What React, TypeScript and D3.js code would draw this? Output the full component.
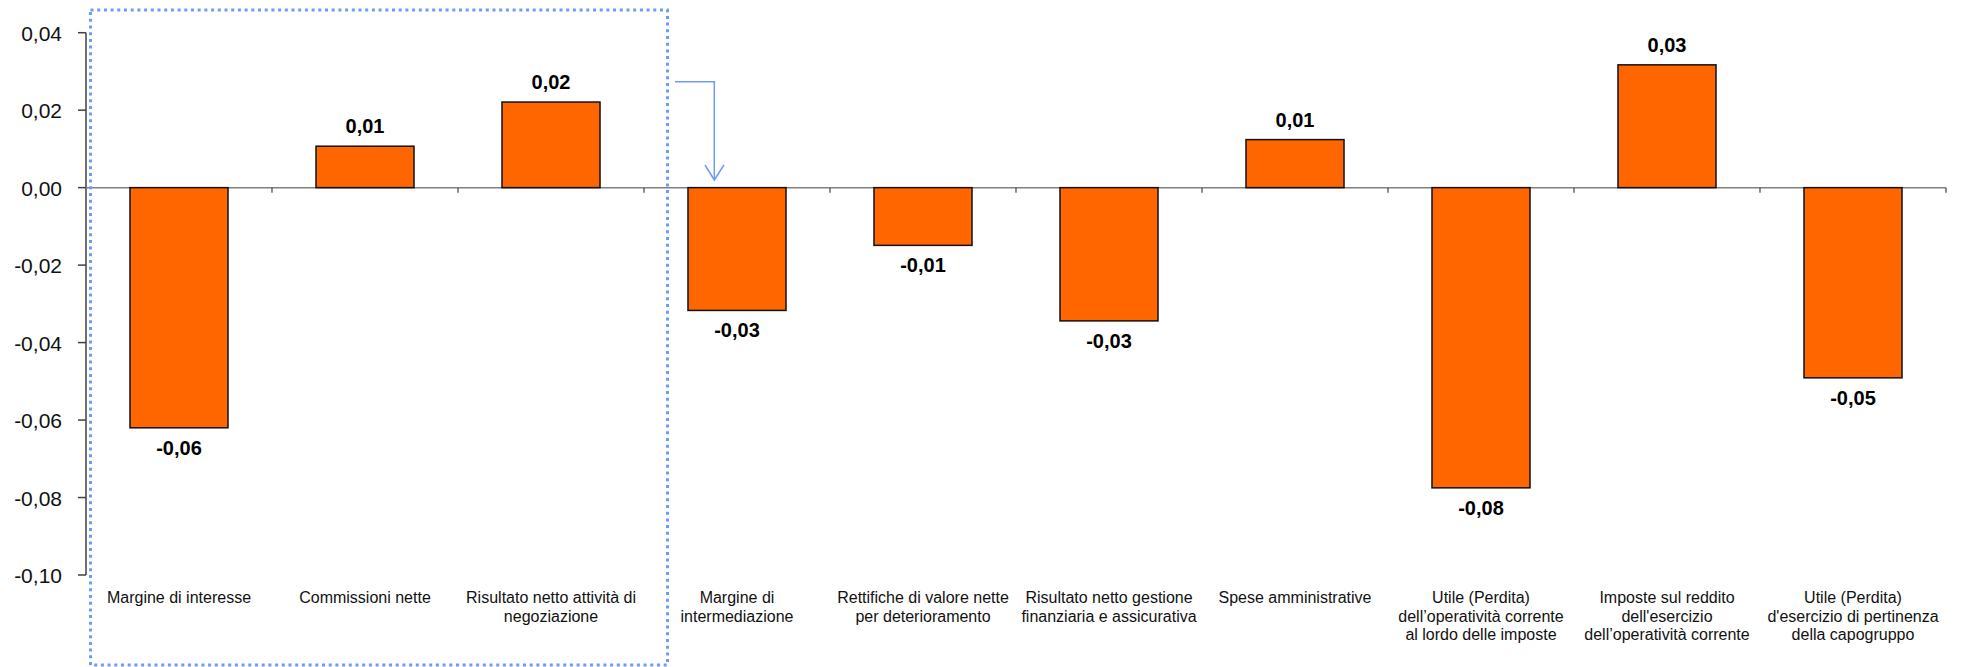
import React from "react";
import * as d3 from "d3";

const categories: string[] = [
  "Margine di interesse",
  "Commissioni nette",
  "Risultato netto attività di negoziazione",
  "Margine di intermediazione",
  "Rettifiche di valore nette per deterioramento",
  "Risultato netto gestione finanziaria e assicurativa",
  "Spese amministrative",
  "Utile (Perdita) dell’operatività corrente al lordo delle imposte",
  "Imposte sul reddito dell'esercizio dell’operatività corrente",
  "Utile (Perdita) d'esercizio di pertinenza della capogruppo",
];

const categoryLines: string[][] = [
  ["Margine di interesse"],
  ["Commissioni nette"],
  ["Risultato netto attività di", "negoziazione"],
  ["Margine di", "intermediazione"],
  ["Rettifiche di valore nette", "per deterioramento"],
  ["Risultato netto gestione", "finanziaria e assicurativa"],
  ["Spese amministrative"],
  ["Utile (Perdita)", "dell’operatività corrente", "al lordo delle imposte"],
  ["Imposte sul reddito", "dell'esercizio", "dell’operatività corrente"],
  ["Utile (Perdita)", "d'esercizio di pertinenza", "della capogruppo"],
];

const values: number[] = [
  -0.062, 0.0107, 0.0221, -0.0317, -0.0149, -0.0344, 0.0124, -0.0775, 0.0317, -0.0491,
];

const yTicks: number[] = [0.04, 0.02, 0.0, -0.02, -0.04, -0.06, -0.08, -0.1];

const W = 1963;
const H = 667;

const locale = d3.formatLocale({
  decimal: ",",
  thousands: ".",
  grouping: [3],
  currency: ["", "€"],
  minus: "-",
});
const fmt = locale.format(".2f");

const FONT = "'Liberation Sans', Arial, sans-serif";

export default function App() {
  const x = d3
    .scaleBand<string>()
    .domain(categories)
    .range([86, 1946])
    .paddingInner(0.473)
    .paddingOuter(0.2365);
  const y = d3.scaleLinear().domain([-0.1, 0.04]).range([575, 32.7]);
  const y0 = y(0);
  const step = x.step();

  const boundaries = d3.range(categories.length + 1).map((i) => 86 + i * step);

  const blue = "#6d9bf8";

  return (
    <svg
      width={W}
      height={H}
      style={{ position: "absolute", left: 0, top: 0, background: "#fff" }}
      fontFamily={FONT}
    >
      <rect x={0} y={0} width={W} height={H} fill="#fff" />

      {/* y axis */}
      <line x1={86} x2={86} y1={y(0.04)} y2={y(-0.1)} stroke="#404040" strokeWidth={1.5} />
      {yTicks.map((t) => (
        <g key={t}>
          <line x1={78} x2={86} y1={y(t)} y2={y(t)} stroke="#404040" strokeWidth={1.5} />
          <text
            x={62}
            y={y(t)}
            dy="0.38em"
            textAnchor="end"
            fontSize={21}
            fill="#111"
          >
            {fmt(t)}
          </text>
        </g>
      ))}

      {/* x axis at zero */}
      <line x1={86} x2={1946} y1={y0} y2={y0} stroke="#808080" strokeWidth={1.5} />
      {boundaries.slice(1).map((bx, i) => (
        <line key={i} x1={bx} x2={bx} y1={y0} y2={y0 + 5} stroke="#404040" strokeWidth={1.2} />
      ))}

      {/* bars */}
      {categories.map((c, i) => {
        const v = values[i];
        const bx = x(c)!;
        const top = Math.min(y(v), y0);
        const h = Math.abs(y(v) - y0);
        return (
          <rect
            key={c}
            x={bx}
            y={top}
            width={x.bandwidth()}
            height={h}
            fill="#ff6600"
            stroke="#111"
            strokeWidth={1.5}
          />
        );
      })}

      {/* value labels */}
      {categories.map((c, i) => {
        const v = values[i];
        const cx = x(c)! + x.bandwidth() / 2;
        const ly = v >= 0 ? y(v) - 13 : y(v) + 27;
        return (
          <text
            key={"v" + c}
            x={cx}
            y={ly}
            textAnchor="middle"
            fontSize={20}
            fontWeight="bold"
            fill="#000"
          >
            {fmt(v)}
          </text>
        );
      })}

      {/* category labels */}
      {categories.map((c, i) => {
        const cx = x(c)! + x.bandwidth() / 2;
        return (
          <text key={"c" + c} x={cx} y={602.7} textAnchor="middle" fontSize={16} fill="#111">
            {categoryLines[i].map((line, j) => (
              <tspan key={j} x={cx} y={602.7 + j * 18.8}>
                {line}
              </tspan>
            ))}
          </text>
        );
      })}

      {/* dotted highlight box */}
      <rect
        x={90.5}
        y={10}
        width={577}
        height={655}
        fill="none"
        stroke={blue}
        strokeWidth={3}
        strokeDasharray="3,3.7"
      />

      {/* arrow */}
      <polyline
        points={`675,81.7 714.3,81.7 714.3,180`}
        fill="none"
        stroke={blue}
        strokeWidth={1.5}
      />
      <polyline
        points={`705,165 714.3,180 724,165`}
        fill="none"
        stroke={blue}
        strokeWidth={1.5}
      />
    </svg>
  );
}
